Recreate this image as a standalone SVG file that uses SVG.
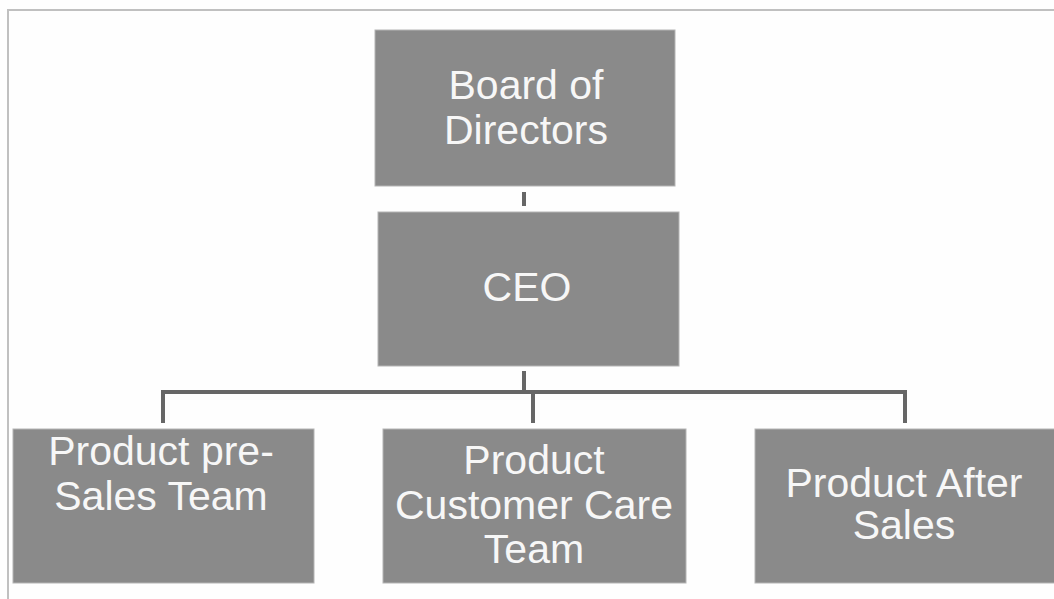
<svg xmlns="http://www.w3.org/2000/svg" width="1054" height="599" viewBox="0 0 1054 599">
<style>
.box{fill:#8a8a8a;stroke:#b4b4b4;stroke-width:1}
.lbl{font-family:"Liberation Sans",Arial,sans-serif;font-size:41px;fill:#f7f7f7;text-anchor:middle}
.conn{stroke:#666;stroke-width:4;fill:none}
.frame{stroke:#c0c0c0;stroke-width:2;fill:none}
</style>
<rect width="1054" height="599" fill="#fefefe"/>
<path class="frame" d="M8,599 V10 H1054"/>
<g id="connectors">
<line class="conn" x1="524" y1="192" x2="524" y2="206" stroke-width="5"/>
<line class="conn" x1="524" y1="371" x2="524" y2="392" stroke-width="5"/>
<path class="conn" d="M163,423 V392 H905 V423"/>
<line class="conn" x1="533" y1="392" x2="533" y2="423"/>
</g>
<g id="board">
<rect class="box" x="375" y="30" width="300" height="156"/>
<text class="lbl" x="526" y="99">Board of</text>
<text class="lbl" x="526" y="144">Directors</text>
</g>
<g id="ceo">
<rect class="box" x="378" y="212" width="301" height="154"/>
<text class="lbl" x="527" y="301">CEO</text>
</g>
<g id="presales">
<rect class="box" x="13" y="429" width="301" height="154"/>
<text class="lbl" x="161" y="465">Product pre-</text>
<text class="lbl" x="161" y="510">Sales Team</text>
</g>
<g id="customercare">
<rect class="box" x="383" y="429" width="303" height="154"/>
<text class="lbl" x="534" y="474">Product</text>
<text class="lbl" x="534" y="519">Customer Care</text>
<text class="lbl" x="534" y="563">Team</text>
</g>
<g id="aftersales">
<rect class="box" x="755" y="429" width="300" height="154"/>
<text class="lbl" x="904" y="497">Product After</text>
<text class="lbl" x="904" y="539">Sales</text>
</g>
</svg>
